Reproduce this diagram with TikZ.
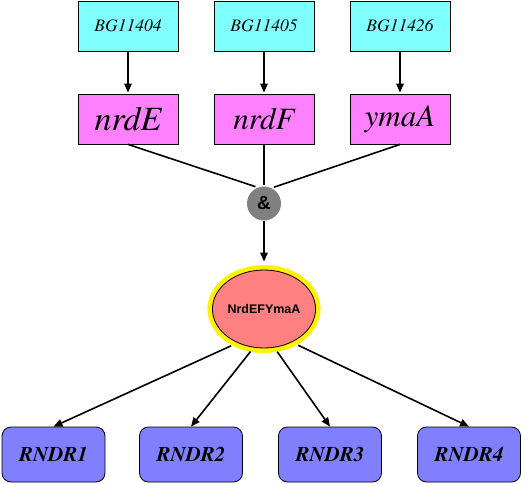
\documentclass[tikz,border=0pt]{standalone}
\usepackage{fontspec}
\setmainfont{TeX Gyre Termes}
\newfontfamily\sansface{Liberation Sans}
\usepackage{tikz}
\usetikzlibrary{arrows.meta, shapes.geometric, positioning, calc}
\definecolor{GeneColor}{RGB}{128,255,255}
\definecolor{ProdColor}{RGB}{255,128,255}
\definecolor{CplxColor}{RGB}{255,128,128}
\definecolor{RxnColor}{RGB}{128,128,255}
\definecolor{AndColor}{RGB}{128,128,128}
\tikzstyle{arrow} = [line width=1.6pt, -{Triangle[length=9pt,width=7.5pt]}]
\tikzstyle{link} = [line width=1.6pt]
\tikzstyle{gene} = [draw, line width=0.8pt, fill=GeneColor, minimum width=100pt, minimum height=50pt, font=\rmfamily\fontsize{17.5}{20}\selectfont\itshape]
\tikzstyle{prod} = [draw, line width=0.8pt, fill=ProdColor, minimum width=100pt, minimum height=50pt, font=\rmfamily\fontsize{31}{34}\selectfont\itshape]
\tikzstyle{rxn} = [draw, line width=0.8pt, fill=RxnColor, rounded corners=9pt, minimum width=103pt, minimum height=55pt, font=\rmfamily\fontsize{21}{24}\selectfont\bfseries\itshape]

\begin{document}
\begin{tikzpicture}[x=1pt, y=-1pt]
    \useasboundingbox (0,0) rectangle (530,484);
    \node[gene] (g1) at (128,26) {BG11404};
    \node[gene] (g2) at (264,26) {BG11405};
    \node[gene] (g3) at (400,26) {BG11426};
    \node[prod, font=\rmfamily\fontsize{34}{38}\selectfont\itshape] (nrdE) at (128,119) {nrdE};
    \node[prod] (nrdF) at (264,119) {nrdF};
    \node[prod] (ymaA) at (400,119) {ymaA};
    \node[circle, fill=AndColor, minimum size=34pt, inner sep=0pt, font=\sansface\fontsize{19}{21}\selectfont\bfseries] (and) at (264,203.5) {\&};
    \node[ellipse, draw, line width=0.8pt, fill=CplxColor, preaction={draw=yellow, line width=10pt}, minimum width=98pt, minimum height=78pt, inner sep=0pt, font=\sansface\fontsize{12.5}{14}\selectfont\bfseries] (cplx) at (264,309) {NrdEFYmaA};
    \node[rxn] (r1) at (53.5,454.5) {RNDR1};
    \node[rxn] (r2) at (191,454.5) {RNDR2};
    \node[rxn] (r3) at (330,454.5) {RNDR3};
    \node[rxn] (r4) at (469,454.5) {RNDR4};
    \draw[arrow, shorten >=1pt] (g1) -- (nrdE);
    \draw[arrow, shorten >=1pt] (g2) -- (nrdF);
    \draw[arrow, shorten >=1pt] (g3) -- (ymaA);
    \draw[link, shorten >=2.5pt] (nrdE.south) -- (and.111);
    \draw[link, shorten >=1.5pt] (nrdF.south) -- (and.north);
    \draw[link, shorten >=2.5pt] (ymaA.south) -- (and.64);
    \draw[arrow, shorten >=8pt] (and) -- (cplx.north);
    \draw[arrow, shorten <=7pt] (cplx.232) -- (r1.north);
    \draw[arrow, shorten <=5pt] (cplx.255) -- (r2.north);
    \draw[arrow, shorten <=5pt] (cplx.285) -- (r3.north);
    \draw[arrow, shorten <=7pt] (cplx.310) -- (r4.north);
\end{tikzpicture}
\end{document}
